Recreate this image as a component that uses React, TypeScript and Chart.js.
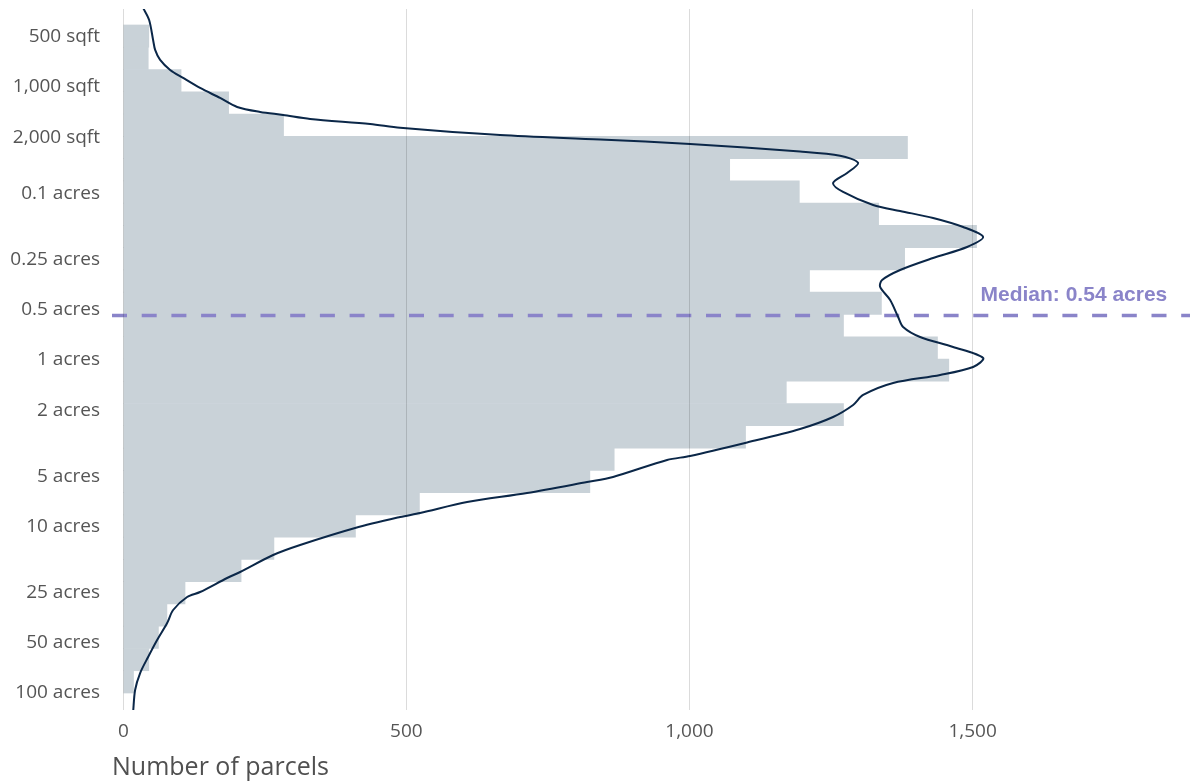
import React, { useEffect, useRef } from "react";
import { Chart, registerables } from "chart.js";

Chart.register(...registerables);

// Histogram bins (geometric centres, in acres) and parcel counts
const BIN_CENTERS_ACRES = [
  0.011346, 0.015437, 0.021004, 0.028578, 0.038884, 0.052906, 0.071985, 0.097944,
  0.13326, 0.18132, 0.24671, 0.33568, 0.45673, 0.62143, 0.84553, 1.15044, 1.5653,
  2.12976, 2.89778, 3.94275, 5.36455, 7.29906, 9.93117, 13.5125, 18.3852, 25.015,
  34.0357, 46.3094, 63.0089, 85.7306,
];
const PARCEL_COUNTS = [
  45, 44, 102, 186, 283, 1385, 1071, 1194, 1334, 1507, 1380, 1212, 1339, 1272, 1438,
  1458, 1171, 1272, 1099, 867, 824, 523, 410, 266, 208, 109, 77, 62, 45, 18,
];

// Density curve (scaled to parcel counts)
const DENSITY_ACRES = [
  0.007689, 0.009078, 0.01197, 0.013741, 0.015781, 0.018124, 0.020241, 0.023248,
  0.026697, 0.030225, 0.032391, 0.033763, 0.03569, 0.038246, 0.04025, 0.044532,
  0.047392, 0.050428, 0.055934, 0.059293, 0.065584, 0.075301, 0.086476, 0.097949,
  0.11723, 0.12738, 0.14029, 0.15893, 0.18248, 0.2096, 0.24397, 0.28804, 0.33077,
  0.36434, 0.43612, 0.55163, 0.6334, 0.72743, 0.83548, 0.97273, 1.1015, 1.2303,
  1.3745, 1.6225, 1.8633, 2.1993, 2.5962, 3.1512, 3.772, 3.9864, 5.0431, 5.4039,
  6.2917, 7.1269, 8.2979, 8.7692, 10.209, 12.915, 14.834, 18.766, 20.387, 24.742,
  26.51, 31.735, 37.985, 48.051, 60.775, 75.857, 95.94, 130.05,
];
const DENSITY_COUNTS = [
  35, 45.6, 52.6, 56.2, 65, 82.7, 105.6, 135.6, 170.9, 201, 241.6, 282.2, 329.9,
  435.9, 488.9, 665.5, 842.1, 1001.1, 1195.3, 1266, 1297.8, 1278.4, 1253.6, 1271.3,
  1324.3, 1372, 1430.3, 1483.3, 1518.6, 1490.3, 1430.3, 1372, 1340.2, 1336.7, 1354.4,
  1368.5, 1377.3, 1407.3, 1465.6, 1518.6, 1501, 1442.7, 1359.7, 1306.7, 1289, 1253.6,
  1195.3, 1098.2, 1001.1, 960.4, 865, 819.1, 713.1, 607.2, 524.2, 488.9, 409.4, 312.3,
  264.6, 206.3, 183.3, 135.6, 112.7, 88, 77.4, 59.7, 43.8, 29.7, 20.8, 17.3,
];

// Axis ticks
const Y_TICK_VALUES_ACRES = [
  0.011478, 0.022957, 0.045914, 0.1, 0.25, 0.5, 1, 2, 5, 10, 25, 50, 100,
];
const Y_TICK_LABELS = [
  "500 sqft", "1,000 sqft", "2,000 sqft", "0.1 acres", "0.25 acres", "0.5 acres",
  "1 acres", "2 acres", "5 acres", "10 acres", "25 acres", "50 acres", "100 acres",
];
const X_TICK_VALUES = [0, 500, 1000, 1500];

const X_MIN = -20;
const X_MAX = 1884;
const Y_MIN_ACRES = 0.0078;
const Y_MAX_ACRES = 126.5;

const MEDIAN_ACRES = 0.54;
const MEDIAN_LABEL = "Median: 0.54 acres";
const MEDIAN_LABEL_AT_COUNT = 1514;

const X_TITLE = "Number of parcels";

const FONT_FAMILY = "'Open Sans', 'Noto Sans', sans-serif";
const MEDIAN_COLOR = "rgb(138,132,201)";

const medianLabelPlugin = {
  id: "medianLabel",
  afterDatasetsDraw(chart: any) {
    const { ctx, scales } = chart;
    const x = scales.x.getPixelForValue(MEDIAN_LABEL_AT_COUNT);
    const y = scales.y.getPixelForValue(MEDIAN_ACRES);
    ctx.save();
    ctx.font = "bold 21px 'Liberation Sans', Arial, sans-serif";
    ctx.fillStyle = MEDIAN_COLOR;
    ctx.textAlign = "left";
    ctx.textBaseline = "alphabetic";
    ctx.fillText(MEDIAN_LABEL, x, y - 14);
    ctx.restore();
  },
};

export default function App() {
  const canvasRef = useRef<HTMLCanvasElement | null>(null);

  useEffect(() => {
    const canvas = canvasRef.current;
    if (!canvas) return;

    const barData = BIN_CENTERS_ACRES.map((a, i) => ({ x: PARCEL_COUNTS[i], y: a }));
    const densityData = DENSITY_ACRES.map((a, i) => ({ x: DENSITY_COUNTS[i], y: a }));
    const medianData = [
      { x: X_MIN, y: MEDIAN_ACRES },
      { x: X_MAX, y: MEDIAN_ACRES },
    ];

    const chart = new Chart(canvas, {
      type: "bar",
      data: {
        datasets: [
          {
            type: "line",
            label: "density",
            data: densityData,
            indexAxis: "y",
            borderColor: "#0b2748",
            borderWidth: 2,
            pointRadius: 0,
            tension: 0.3,
            fill: false,
            order: 0,
          } as any,
          {
            type: "line",
            label: "median",
            data: medianData,
            indexAxis: "y",
            borderColor: MEDIAN_COLOR,
            borderWidth: 3.4,
            borderDash: [15, 14.7],
            pointRadius: 0,
            tension: 0,
            fill: false,
            order: 1,
          } as any,
          {
            type: "bar",
            label: "parcels",
            data: barData,
            backgroundColor: "rgb(201,210,216)",
            borderWidth: 0,
            categoryPercentage: 1,
            barPercentage: 1,
            order: 2,
          } as any,
        ],
      },
      options: {
        indexAxis: "y",
        responsive: false,
        animation: false,
        layout: { padding: { top: 9, right: 0, left: 0, bottom: 0 } },
        plugins: {
          legend: { display: false },
          tooltip: { enabled: false },
        },
        scales: {
          x: {
            type: "linear",
            position: "bottom",
            min: X_MIN,
            max: X_MAX,
            bounds: "data",
            afterBuildTicks: (s: any) => {
              s.ticks = X_TICK_VALUES.map((v) => ({ value: v }));
            },
            afterFit: (s: any) => {
              s.height = 73;
              s.paddingLeft = 0;
              s.paddingRight = 0;
            },
            grid: { color: "rgba(0,0,0,0.14)", lineWidth: 1, drawTicks: false, z: 1 },
            border: { display: false },
            ticks: {
              padding: 10,
              color: "#555",
              autoSkip: false,
              maxRotation: 0,
              font: { family: FONT_FAMILY, size: 19 },
              callback: (v: any) => Number(v).toLocaleString("en-US"),
            },
            title: {
              display: true,
              text: X_TITLE,
              align: "start",
              color: "#505050",
              font: { family: FONT_FAMILY, size: 25 },
              padding: { top: 0, bottom: 0 },
            },
          },
          y: {
            type: "logarithmic",
            position: "left",
            reverse: true,
            min: Y_MIN_ACRES,
            max: Y_MAX_ACRES,
            bounds: "data",
            afterBuildTicks: (s: any) => {
              s.ticks = Y_TICK_VALUES_ACRES.map((v) => ({ value: v }));
            },
            afterFit: (s: any) => {
              s.width = 112;
              s.paddingTop = 0;
              s.paddingBottom = 0;
            },
            grid: { display: false, drawTicks: false },
            border: { display: false },
            ticks: {
              padding: 12,
              color: "#555",
              autoSkip: false,
              font: { family: FONT_FAMILY, size: 19 },
              callback: (_v: any, i: number) => Y_TICK_LABELS[i],
            },
          },
        },
      } as any,
      plugins: [medianLabelPlugin],
    });

    return () => chart.destroy();
  }, []);

  return (
    <div style={{ position: "absolute", left: 0, top: 0, width: 1190, height: 783 }}>
      <canvas ref={canvasRef} width={1190} height={783} />
    </div>
  );
}
